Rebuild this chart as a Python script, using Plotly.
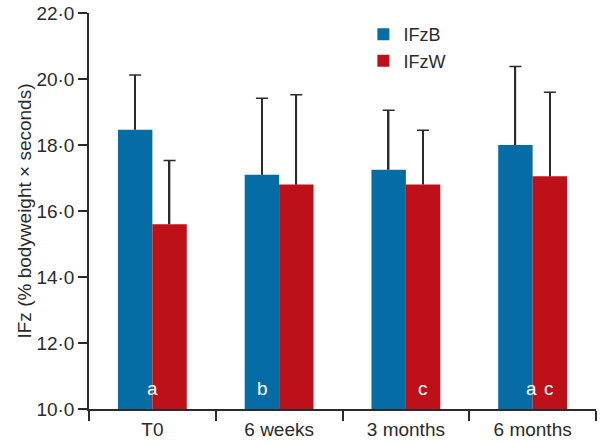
import plotly.graph_objects as go

categories = ["T0", "6 weeks", "3 months", "6 months"]
ifzb_mean = [18.46, 17.1, 17.25, 18.0]
ifzb_upper = [20.12, 19.42, 19.05, 20.38]
ifzw_mean = [15.6, 16.8, 16.8, 17.05]
ifzw_upper = [17.53, 19.52, 18.45, 19.6]
ytick_vals = [10, 12, 14, 16, 18, 20, 22]
ytick_text = ["10·0", "12·0", "14·0", "16·0", "18·0", "20·0", "22·0"]
# significance letters: (category, text, pixel shift from category centre)
sig_cats = ["T0", "6 weeks", "3 months", "6 months", "6 months"]
sig_text = ["a", "b", "c", "a", "c"]
sig_shift = [0, -17, 17, -1, 16]

BLUE = "#066ca6"
RED = "#be1019"
INK = "#2b2b2b"
FONT = "Liberation Sans, Arial, sans-serif"
FS = 19

err_b = [u - m for u, m in zip(ifzb_upper, ifzb_mean)]
err_w = [u - m for u, m in zip(ifzw_upper, ifzw_mean)]

fig = go.Figure()
for name, means, errs, color, grp in [("IFzB", ifzb_mean, err_b, BLUE, "b"),
                                      ("IFzW", ifzw_mean, err_w, RED, "w")]:
    fig.add_trace(go.Bar(
        x=categories, y=means, name=name, offsetgroup=grp, alignmentgroup="g",
        marker=dict(color=color, line=dict(width=0)),
    ))
for means, errs, grp in [(ifzb_mean, err_b, "b"), (ifzw_mean, err_w, "w")]:
    # one-sided (upward) error bar: thin stem from the bar top plus a cap
    fig.add_trace(go.Bar(
        x=categories, y=errs, base=means, offsetgroup=grp, alignmentgroup="g",
        width=0.012, marker=dict(color=INK, line=dict(width=0)),
        showlegend=False, hoverinfo="skip",
        error_y=dict(type="data", array=[0] * 4, symmetric=True,
                     color=INK, thickness=1.5, width=6),
    ))

for c, t, s in zip(sig_cats, sig_text, sig_shift):
    fig.add_annotation(x=c, y=10.62, text=t, showarrow=False, xshift=s,
                       font=dict(family=FONT, size=FS, color="white"),
                       xref="x", yref="y")

fig.update_layout(
    width=606, height=443,
    margin=dict(l=89, r=10, t=13, b=34, autoexpand=False),
    paper_bgcolor="white", plot_bgcolor="white",
    barmode="group", bargap=0.457, bargroupgap=0,
    font=dict(family=FONT, size=FS, color=INK),
    showlegend=True,
    legend=dict(x=0.5412, y=0.992, xanchor="left", yanchor="top",
                bgcolor="rgba(0,0,0,0)", font=dict(size=18, color=INK),
                itemwidth=30, tracegroupgap=0, traceorder="normal"),
)
fig.update_xaxes(
    type="category", range=[-0.5, 3.5], showline=True, linecolor=INK, linewidth=1.5,
    ticks="outside", tickson="boundaries", ticklen=10, tickwidth=1.5, tickcolor=INK,
    ticklabelstandoff=2,
    showgrid=False, zeroline=False, tickfont=dict(size=FS, color=INK),
)
fig.update_yaxes(
    range=[10, 22], tickvals=ytick_vals, ticktext=ytick_text,
    showline=True, linecolor=INK, linewidth=1.5,
    ticks="outside", ticklen=9, tickwidth=1.5, tickcolor=INK,
    showgrid=False, zeroline=False, tickfont=dict(size=FS, color=INK),
    title=dict(text="IFz (% bodyweight × seconds)", font=dict(size=FS, color=INK), standoff=0),
)

fig.write_html("out.html")
